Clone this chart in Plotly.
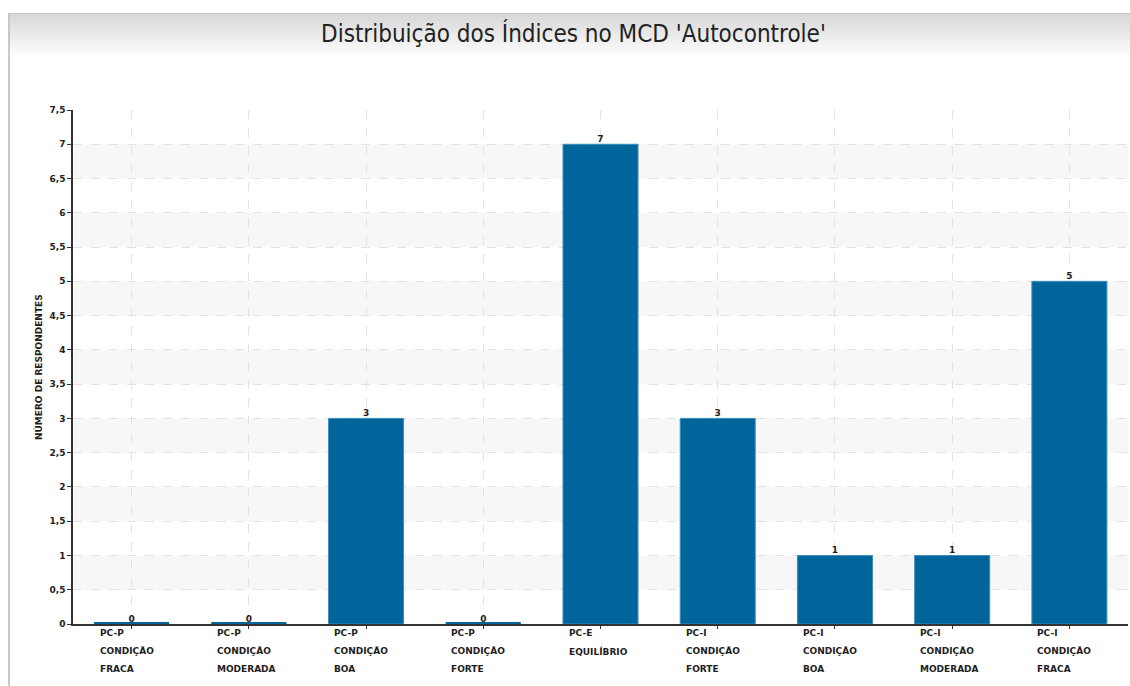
import plotly.graph_objects as go

# Categories (three label lines each) and respondent counts
cat_line1 = ["PC-P", "PC-P", "PC-P", "PC-P", "PC-E", "PC-I", "PC-I", "PC-I", "PC-I"]
cat_line2 = ["CONDIÇÃO", "CONDIÇÃO", "CONDIÇÃO", "CONDIÇÃO", "EQUILÍBRIO",
             "CONDIÇÃO", "CONDIÇÃO", "CONDIÇÃO", "CONDIÇÃO"]
cat_line3 = ["FRACA", "MODERADA", "BOA", "FORTE", "", "FORTE", "BOA", "MODERADA", "FRACA"]
respondentes = [0, 0, 3, 0, 7, 3, 1, 1, 5]
y_ticks = [0, 0.5, 1, 1.5, 2, 2.5, 3, 3.5, 4, 4.5, 5, 5.5, 6, 6.5, 7, 7.5]

W, H = 1130, 686
ML, MR, MT, MB = 73, 2, 110, 62
PW, PH = W - ML - MR, H - MT - MB

BAR = "#00659a"
EDGE = "#3f8dba"
TXT = "#1e1e1e"
PIX = "DejaVu Sans"

x = list(range(len(respondentes)))
bar_w = 0.64


def py(p):
    """pixel row -> paper y"""
    return (H - MB - p) / PH


def px(p):
    """pixel column -> paper x"""
    return (p - ML) / PW


fig = go.Figure()

fig.add_trace(go.Bar(
    x=x, y=respondentes, width=bar_w,
    marker=dict(color=BAR, line=dict(color=EDGE, width=1)),
    hoverinfo="skip", showlegend=False,
))

# value labels above each bar
fig.add_trace(go.Scatter(
    x=x, y=respondentes, mode="text",
    text=[str(v) for v in respondentes], textposition="top center",
    textfont=dict(family=PIX, size=9, color=TXT, weight="bold"),
    hoverinfo="skip", showlegend=False,
))

shapes = []
# alternating light bands
for k in range(7):
    shapes.append(dict(type="rect", xref="paper", yref="y", x0=0, x1=1,
                       y0=k + 0.5, y1=k + 1, fillcolor="#f7f7f7",
                       line=dict(width=0), layer="below"))
# thin strip for empty categories
for i, v in enumerate(respondentes):
    if v == 0:
        shapes.append(dict(type="rect", xref="x", yref="y",
                           x0=i - bar_w / 2, x1=i + bar_w / 2, y0=0, y1=0.03,
                           fillcolor=BAR, line=dict(width=0), layer="above"))
# header gradient strip
top, bottom = 14, 58
n = bottom - top
for j in range(n):
    g = int(0xd8 + (0xff - 0xd8) * j / (n - 1))
    shapes.append(dict(type="rect", xref="paper", yref="paper",
                       x0=px(10), x1=px(W + 5), y0=py(top + j + 1), y1=py(top + j),
                       fillcolor=f"rgb({g},{g},{g})", line=dict(width=0), layer="below"))
# outer frame lines
shapes.append(dict(type="line", xref="paper", yref="paper",
                   x0=px(9), x1=px(9), y0=py(13), y1=py(H + 5),
                   line=dict(color="#c8c8c8", width=2)))
shapes.append(dict(type="line", xref="paper", yref="paper",
                   x0=px(8), x1=px(W + 5), y0=py(13.5), y1=py(13.5),
                   line=dict(color="#c8c8c8", width=1)))

annotations = []
for i in x:
    for line, row in ((cat_line1[i], 633), (cat_line2[i], 651), (cat_line3[i], 669)):
        if line:
            annotations.append(dict(
                x=i - 0.29, xref="x", y=py(row), yref="paper",
                text=line, showarrow=False, xanchor="left", yanchor="middle",
                font=dict(family=PIX, size=9, color=TXT, weight="bold")))

annotations.append(dict(
    x=px(38), xref="paper", y=py(367), yref="paper",
    text="NÚMERO DE RESPONDENTES", showarrow=False, textangle=-90,
    xanchor="center", yanchor="middle",
    font=dict(family=PIX, size=9, color=TXT, weight="bold")))

annotations.append(dict(
    x=px(573), xref="paper", y=py(33), yref="paper",
    text="Distribuição dos Índices no MCD 'Autocontrole'", showarrow=False,
    xanchor="center", yanchor="middle",
    font=dict(family="Liberation Sans Narrow, DejaVu Sans Condensed, Roboto Condensed, Roboto",
              size=24, color="#222222")))

fig.update_layout(
    width=W, height=H,
    margin=dict(l=ML, r=MR, t=MT, b=MB),
    paper_bgcolor="white", plot_bgcolor="white",
    separators=",.",
    bargap=0.36,
    shapes=shapes, annotations=annotations,
    xaxis=dict(range=[-0.5, len(x) - 0.5], tickvals=x, ticktext=[""] * len(x),
               showgrid=True, gridcolor="#e3e3e3", griddash="dash", gridwidth=1,
               showline=True, linecolor="#333333", linewidth=1.5,
               ticks="outside", ticklen=3, tickcolor="#333333",
               zeroline=False, fixedrange=True),
    yaxis=dict(range=[0, 7.5], tickvals=y_ticks,
               ticktext=[f"{t:g}".replace(".", ",") for t in y_ticks],
               showgrid=True, gridcolor="#e3e3e3", griddash="dash", gridwidth=1,
               showline=True, linecolor="#333333", linewidth=1.5,
               ticks="outside", ticklen=4, tickcolor="#333333",
               tickfont=dict(family=PIX, size=9, color=TXT, weight="bold"),
               zeroline=False, fixedrange=True),
)

fig.write_html("out.html")
